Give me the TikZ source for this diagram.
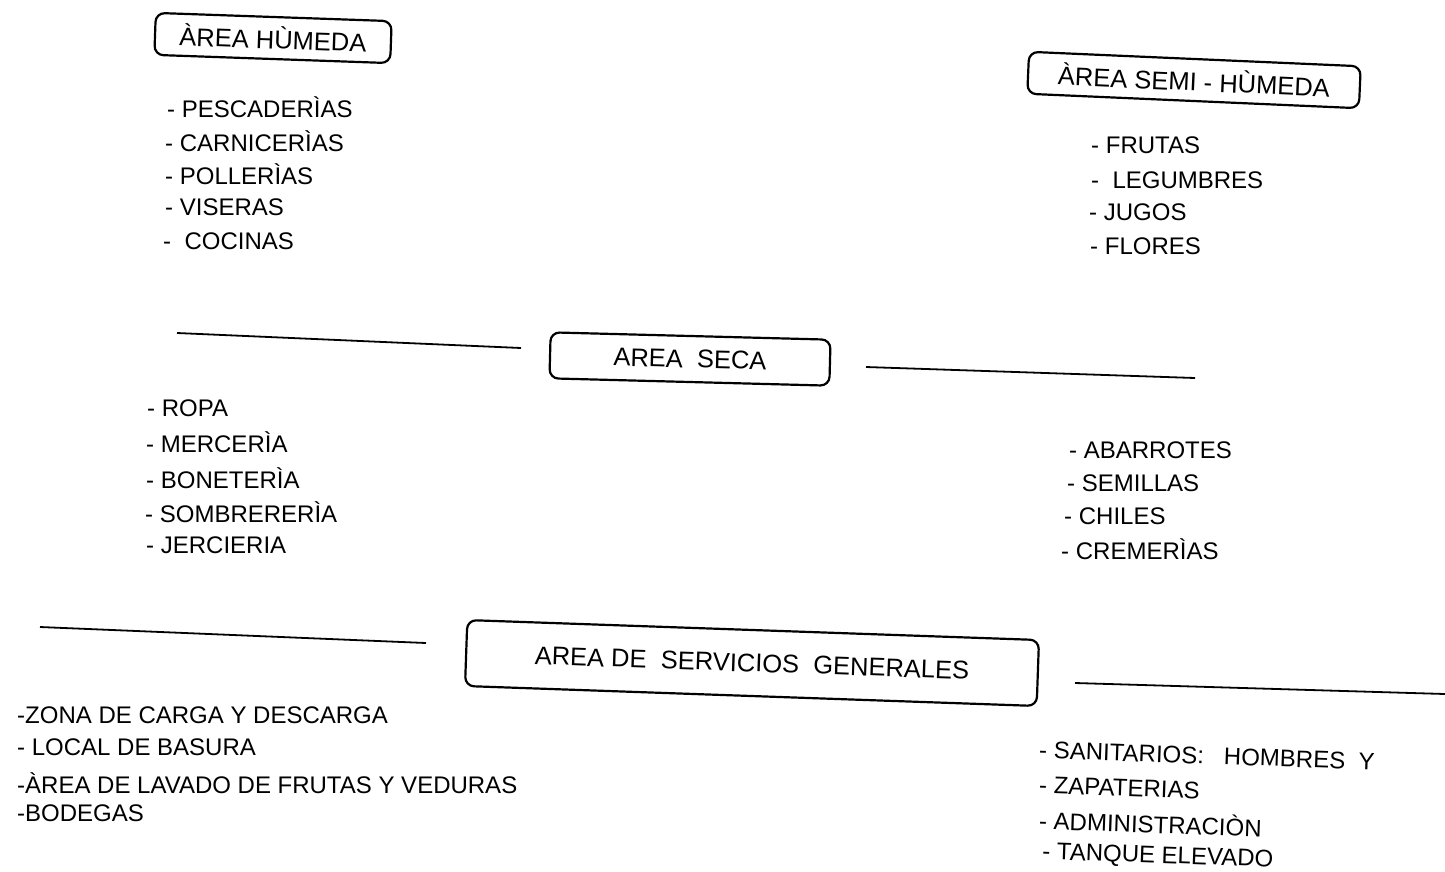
\documentclass[tikz,border=0pt]{standalone}
\usepackage{fontspec}
\setmainfont{Liberation Sans}
\begin{document}
\begin{tikzpicture}[x=1pt,y=-1pt,
  areabox/.style={draw, line width=2.2pt, rounded corners=9pt, inner sep=0pt, align=center,
    font=\fontsize{25.5}{27}\selectfont},
  item/.style={anchor=west, inner sep=0pt, font=\fontsize{24}{26}\selectfont},
  rule/.style={line width=1.8pt}]
\useasboundingbox (0,0) rectangle (1445,871);
\fill[white] (0,0) rectangle (1445,871);

% headers
\node[areabox, minimum width=236pt, minimum height=42pt, rotate=-2] (hum) at (273,38) {ÀREA HÙMEDA};
\node[areabox, minimum width=332pt, minimum height=42pt, rotate=-2.5] (semi) at (1194,80) {ÀREA SEMI - HÙMEDA};
\node[areabox, minimum width=280pt, minimum height=46pt, rotate=-1.5] (seca) at (690,359) {AREA \ SECA};
\node[areabox, minimum width=572pt, minimum height=66pt, rotate=-2] (serv) at (752,663) {AREA DE \ SERVICIOS \ GENERALES};

% rules
\coordinate (l1a) at (177,333); \coordinate (l1b) at (521,348);
\coordinate (r1a) at (866,367); \coordinate (r1b) at (1195,378);
\coordinate (l2a) at (40,627); \coordinate (l2b) at (426,643);
\coordinate (r2a) at (1075,683); \coordinate (r2b) at (1445,694);
\draw[rule] (l1a) -- (l1b);
\draw[rule] (r1a) -- (r1b);
\draw[rule] (l2a) -- (l2b);
\draw[rule] (r2a) -- (r2b);

% humeda list
\node[item] (h1) at (167,107) {- PESCADERÌAS};
\node[item] (h2) at (165,141) {- CARNICERÌAS};
\node[item] (h3) at (165,174) {- POLLERÌAS};
\node[item] (h4) at (165,207) {- VISERAS};
\node[item] (h5) at (163,241) {-\ \ COCINAS};

% semi humeda list
\node[item] (s1) at (1091,145) {- FRUTAS};
\node[item] (s2) at (1091,180) {-\ \ LEGUMBRES};
\node[item] (s3) at (1089,212) {- JUGOS};
\node[item] (s4) at (1090,246) {- FLORES};

% seca left
\node[item] (a1) at (147,408) {- ROPA};
\node[item] (a2) at (146,442) {- MERCERÌA};
\node[item] (a3) at (146,478) {- BONETERÌA};
\node[item] (a4) at (145,512) {- SOMBRERERÌA};
\node[item] (a5) at (146,545) {- JERCIERIA};

% seca right
\node[item] (b1) at (1069,450) {- ABARROTES};
\node[item] (b2) at (1067,483) {- SEMILLAS};
\node[item] (b3) at (1064,516) {- CHILES};
\node[item] (b4) at (1061,549) {- CREMERÌAS};

% servicios left
\node[item] (c1) at (17,715) {-ZONA DE CARGA Y DESCARGA};
\node[item] (c2) at (17,747) {- LOCAL DE BASURA};
\node[item] (c3) at (17,783) {-ÀREA DE LAVADO DE FRUTAS Y VEDURAS};
\node[item] (c4) at (17,813) {-BODEGAS};

% servicios right
\node[item, rotate=-2] (d1) at (1039,750) {- SANITARIOS:\ \ \ HOMBRES \ Y};
\node[item, rotate=-2] (d2) at (1039,785) {- ZAPATERIAS};
\node[item, rotate=-2] (d3) at (1039,819) {- ADMINISTRACIÒN};
\node[item, rotate=-2] (d4) at (1042,853) {- TANQUE ELEVADO};
\end{tikzpicture}
\end{document}
